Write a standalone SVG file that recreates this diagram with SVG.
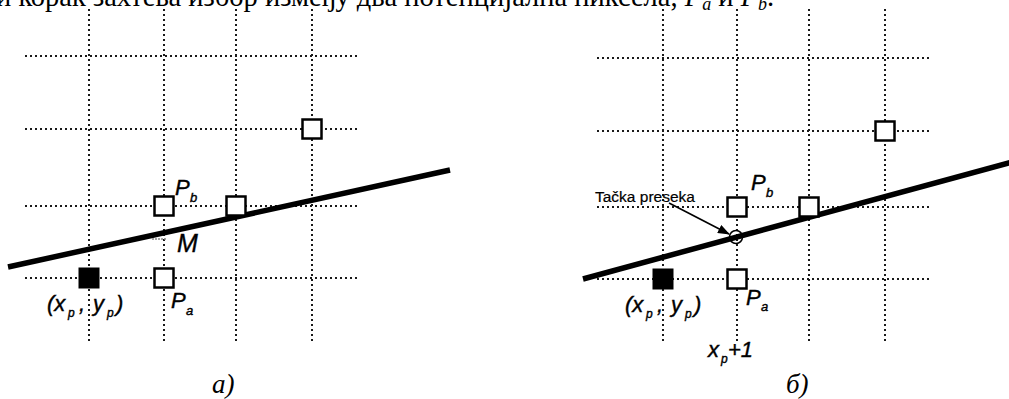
<svg xmlns="http://www.w3.org/2000/svg" width="1009" height="399" viewBox="0 0 1009 399">
<style>
.grid{stroke:#1a1a1a;stroke-width:2;stroke-dasharray:2 3;fill:none}
.px{fill:#fff;stroke:#000;stroke-width:2.5}
.cur{fill:#000;stroke:#000;stroke-width:2}
.ln{stroke:#000;stroke-width:5.5;stroke-linecap:butt}
.lbl{font-family:"Liberation Sans Narrow","Liberation Sans",Arial,sans-serif;font-style:italic;fill:#000;stroke:#000;stroke-width:0.4}
.cap{font-family:"Liberation Serif","Times New Roman",serif;font-style:italic;font-size:27px;fill:#000}
.top{font-family:"Liberation Serif","Times New Roman",serif;font-size:28.5px;fill:#000}
.note{font-family:"Liberation Sans",Arial,sans-serif;font-size:15.5px;fill:#000;stroke:#000;stroke-width:0.2}
</style>
<defs>
<marker id="ah" markerWidth="12" markerHeight="9" refX="11" refY="4.5" orient="auto" markerUnits="userSpaceOnUse" viewBox="0 0 12 9">
<path d="M0,0 L12,4.5 L0,9 z" fill="#000"/>
</marker>
</defs>

<text class="top" x="-4" y="6">и корак захтева избор између два потенцијална пиксела, <tspan font-style="italic">P</tspan><tspan font-style="italic" font-size="18" dy="4">a</tspan><tspan dy="-4"> и </tspan><tspan font-style="italic">P</tspan><tspan font-style="italic" font-size="18" dy="4">b</tspan><tspan dy="-4">.</tspan></text>

<g id="grid-a">
<path class="grid" d="M89,9V342M164,9V342M236,9V342M312,9V342M25,56H360M25,129H360M25,206H360M25,278H360"/>
</g>
<g id="grid-b">
<path class="grid" d="M663,9V343M737,9V343M809,9V343M885,9V343M597,58H930M597,131H930M597,207H930M597,279H930"/>
</g>

<g id="connectors">
<line class="ln" x1="8" y1="267" x2="450" y2="170"/>
<line class="ln" x1="583" y1="279" x2="1012" y2="162"/>
<line x1="669" y1="203" x2="729" y2="234" stroke="#000" stroke-width="1.6" marker-end="url(#ah)"/>
<line x1="152" y1="239" x2="166" y2="239" stroke="#888" stroke-width="1.5" stroke-dasharray="2 1"/>
</g>

<g id="a-pixel-top"><rect class="px" x="302.5" y="119.5" width="19" height="19"/></g>
<g id="a-Pb"><rect class="px" x="154.5" y="196.5" width="19" height="19"/>
<text class="lbl" x="175" y="195" font-size="22">P</text><text class="lbl" x="190" y="202" font-size="13">b</text></g>
<g id="a-pixel-mid"><rect class="px" x="226.5" y="196.5" width="19" height="19"/></g>
<g id="a-Pa"><rect class="px" x="154.5" y="268.5" width="19" height="19"/>
<text class="lbl" x="171" y="308" font-size="22">P</text><text class="lbl" x="186" y="315" font-size="13">a</text></g>
<g id="a-current"><rect class="cur" x="79.5" y="268.5" width="19" height="19"/>
<text class="lbl" font-size="22" y="311"><tspan x="47">(x</tspan><tspan x="68" y="317" font-size="12">p</tspan><tspan x="79" y="311">,</tspan><tspan x="93">y</tspan><tspan x="107" y="317" font-size="12">p</tspan><tspan x="116" y="311">)</tspan></text></g>
<g id="a-M"><text class="lbl" x="177" y="252" font-size="25">M</text></g>
<text class="cap" x="212" y="393">a)</text>

<g id="b-pixel-top"><rect class="px" x="875.5" y="121.5" width="19" height="19"/></g>
<g id="b-Pb"><rect class="px" x="727.5" y="197.5" width="19" height="19"/>
<text class="lbl" x="751" y="190" font-size="22">P</text><text class="lbl" x="766" y="197" font-size="13">b</text></g>
<g id="b-pixel-mid"><rect class="px" x="799.5" y="197.5" width="19" height="19"/></g>
<g id="b-Pa"><rect class="px" x="727.5" y="269.5" width="19" height="19"/>
<text class="lbl" x="746" y="305" font-size="22">P</text><text class="lbl" x="761" y="311" font-size="13">a</text></g>
<g id="b-current"><rect class="cur" x="653.5" y="269.5" width="19" height="19"/>
<text class="lbl" font-size="22" y="312"><tspan x="625">(x</tspan><tspan x="646" y="318" font-size="12">p</tspan><tspan x="657" y="312">,</tspan><tspan x="671">y</tspan><tspan x="685" y="318" font-size="12">p</tspan><tspan x="694" y="312">)</tspan></text></g>
<g id="b-intersection"><circle cx="736" cy="237" r="6.5" fill="none" stroke="#000" stroke-width="1.5"/>
<line x1="731" y1="237" x2="741" y2="237" stroke="#000" stroke-width="1"/></g>
<g id="b-note"><text class="note" x="595" y="202">Tačka preseka</text></g>
<g id="b-xp1"><text class="lbl" font-size="22" y="357"><tspan x="708">x</tspan><tspan x="721" y="363" font-size="12">p</tspan><tspan x="728" y="357">+1</tspan></text></g>
<text class="cap" x="786" y="393">б)</text>
</svg>
